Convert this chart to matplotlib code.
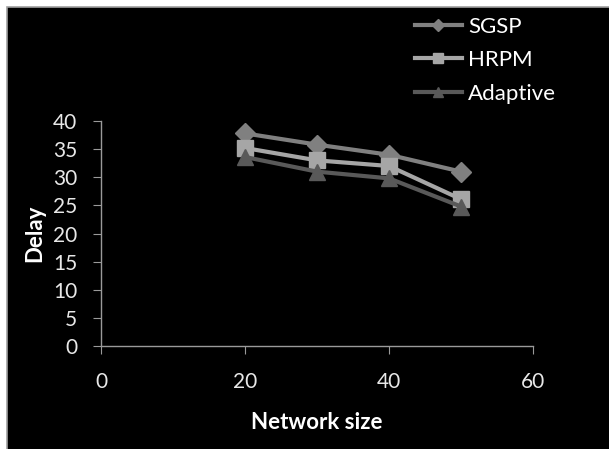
import matplotlib.pyplot as plt
from matplotlib.patches import Rectangle

# data
network_size = [20, 30, 40, 50]
sgsp = [37.8, 35.8, 34.0, 31.0]
hrpm = [35.2, 33.0, 32.0, 26.1]
adaptive = [33.6, 31.0, 29.8, 24.8]

W, H = 609, 449
plt.rcParams["font.family"] = ["Lato", "DejaVu Sans"]

fig = plt.figure(figsize=(W / 100, H / 100), dpi=100, facecolor="white")
# black chart area with thin gray frame
fig.patches.append(Rectangle((7 / W, -0.01), 1.02, 1 - 7 / H + 0.01,
                             transform=fig.transFigure, facecolor="black",
                             edgecolor="#a0a0a0", linewidth=1.2, zorder=-10))

ax = fig.add_axes([101 / W, 1 - 346 / H, (533 - 101) / W, (346 - 121) / H])
ax.set_facecolor("black")

ax.plot(network_size, sgsp, color="#808080", lw=3, marker="D", ms=10, label="SGSP")
ax.plot(network_size, hrpm, color="#a6a6a6", lw=3, marker="s", ms=11, label="HRPM")
ax.plot(network_size, adaptive, color="#595959", lw=3, marker="^", ms=11, label="Adaptive")

ax.set_xlim(0, 60)
ax.set_ylim(0, 40)
ax.set_xticks([0, 20, 40, 60])
ax.set_yticks(range(0, 41, 5))

for s in ["top", "right"]:
    ax.spines[s].set_visible(False)
for s in ["left", "bottom"]:
    ax.spines[s].set_color("#9a9a9a")
    ax.spines[s].set_linewidth(1)
ax.tick_params(colors="#9a9a9a", labelcolor="#e8e8e8", labelsize=15, length=6)
ax.tick_params(axis="x", pad=13)
ax.tick_params(axis="y", pad=11)

ax.set_xlabel("Network size", color="white", fontsize=16, fontweight="bold", labelpad=14)
ax.set_ylabel("Delay", color="white", fontsize=16, fontweight="bold", labelpad=6)

leg = fig.legend(loc="upper left", bbox_to_anchor=(406 / W, 1 - 8 / H),
                 borderaxespad=0, frameon=False, fontsize=16, labelcolor="white",
                 markerscale=0.65, handlelength=2.1, handletextpad=0.3,
                 labelspacing=0.6)

fig.savefig("out.png", dpi=100, facecolor=fig.get_facecolor())
